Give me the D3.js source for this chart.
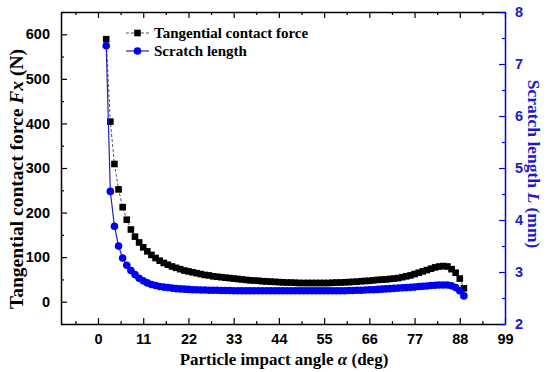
<!DOCTYPE html>
<html>
<head>
<meta charset="utf-8">
<script src="https://cdn.jsdelivr.net/npm/d3@7"></script>
<style>
  body { margin: 0; background: #fff; }
  svg { display: block; }
  .tick text { font-family: "Liberation Sans", Arial, sans-serif; font-weight: bold; font-size: 14.5px; }
</style>
</head>
<body>
<svg id="chart" width="550" height="372"></svg>
<script>
// particle impact angle (deg)
var angles = [
  2, 3, 4, 5, 6, 7, 8, 9, 10, 11,
  12, 13, 14, 15, 16, 17, 18, 19, 20, 21,
  22, 23, 24, 25, 26, 27, 28, 29, 30, 31,
  32, 33, 34, 35, 36, 37, 38, 39, 40, 41,
  42, 43, 44, 45, 46, 47, 48, 49, 50, 51,
  52, 53, 54, 55, 56, 57, 58, 59, 60, 61,
  62, 63, 64, 65, 66, 67, 68, 69, 70, 71,
  72, 73, 74, 75, 76, 77, 78, 79, 80, 81,
  82, 83, 84, 85, 86, 87, 88, 89
];

// tangential contact force Fx (N)
var forceFx = [
  589, 404, 309, 252, 212, 184, 162, 146, 133, 122,
  113, 105, 98, 92, 87, 83, 79, 76, 73, 70,
  68, 66, 64, 62, 60, 59, 57, 56, 55, 54,
  53, 52, 51, 50, 49, 48, 47.5, 47, 46, 45.5,
  45, 44.5, 44, 43.5, 43, 43, 42.5, 42, 42, 42,
  42, 42, 42, 42, 42, 42.5, 43, 43, 43.5, 44,
  44.5, 45, 46, 46.5, 47, 48, 49, 49.5, 50, 51,
  52, 53, 55, 57, 59, 62, 65, 68, 71, 74,
  77, 79, 80, 79, 73, 65, 52, 30
];

// scratch length L (mm)
var scratchL = [
  7.35, 4.55, 3.88, 3.50, 3.27, 3.13, 3.03, 2.95, 2.88, 2.83,
  2.79, 2.76, 2.74, 2.72, 2.71, 2.70, 2.69, 2.68, 2.675, 2.67,
  2.665, 2.66, 2.66, 2.655, 2.655, 2.65, 2.65, 2.65, 2.645, 2.645,
  2.645, 2.64, 2.64, 2.64, 2.64, 2.64, 2.64, 2.64, 2.64, 2.64,
  2.64, 2.64, 2.64, 2.64, 2.64, 2.64, 2.64, 2.64, 2.64, 2.64,
  2.64, 2.64, 2.64, 2.64, 2.64, 2.64, 2.64, 2.64, 2.64, 2.645,
  2.645, 2.65, 2.65, 2.655, 2.66, 2.66, 2.665, 2.67, 2.675, 2.68,
  2.685, 2.69, 2.695, 2.70, 2.705, 2.71, 2.72, 2.725, 2.73, 2.74,
  2.745, 2.75, 2.75, 2.75, 2.735, 2.70, 2.64, 2.54
];

var xTicks = [0, 11, 22, 33, 44, 55, 66, 77, 88, 99];
var xMinor = [-5.5, 5.5, 16.5, 27.5, 38.5, 49.5, 60.5, 71.5, 82.5, 93.5];
var leftTicks = [0, 100, 200, 300, 400, 500, 600];
var leftMinor = [-50, 50, 150, 250, 350, 450, 550, 650];
var rightTicks = [2, 3, 4, 5, 6, 7, 8];
var rightMinor = [2.5, 3.5, 4.5, 5.5, 6.5, 7.5];

var legendNames = ["Tangential contact force", "Scratch length"];

var blue = "#0000ee";
var axisBlue = "#1a1acc";

var box = {left: 61, right: 505, top: 12, bottom: 324};
var svg = d3.select("#chart");

var x = d3.scaleLinear().domain([-9, 99]).range([box.left, box.right]);
var yL = d3.scaleLinear().domain([-50, 650]).range([box.bottom, box.top]);
var yR = d3.scaleLinear().domain([2, 8]).range([box.bottom, box.top]);

function styleAxis(g, color) {
  g.select(".domain").attr("stroke", color).attr("stroke-width", 1.5);
  g.selectAll(".tick line").attr("stroke", color).attr("stroke-width", 1.2);
  g.selectAll(".tick text").attr("fill", color);
}

// bottom axis (inward ticks)
var gx = svg.append("g").attr("transform", "translate(0," + box.bottom + ")")
  .call(d3.axisBottom(x).tickValues(xTicks).tickSizeInner(-6).tickSizeOuter(0).tickPadding(10));
styleAxis(gx, "#000");
svg.append("g").attr("transform", "translate(0," + box.bottom + ")")
  .call(d3.axisBottom(x).tickValues(xMinor).tickSizeInner(-3).tickSizeOuter(0).tickFormat(""))
  .call(function(g) { g.select(".domain").remove(); styleAxis(g, "#000"); });

// top frame with mirrored ticks
var gt = svg.append("g").attr("transform", "translate(0," + box.top + ")")
  .call(d3.axisTop(x).tickValues(xTicks).tickSizeInner(-6).tickSizeOuter(0).tickFormat(""));
styleAxis(gt, "#000");
svg.append("g").attr("transform", "translate(0," + box.top + ")")
  .call(d3.axisTop(x).tickValues(xMinor).tickSizeInner(-3).tickSizeOuter(0).tickFormat(""))
  .call(function(g) { g.select(".domain").remove(); styleAxis(g, "#000"); });

// left axis
var gl = svg.append("g").attr("transform", "translate(" + box.left + ",0)")
  .call(d3.axisLeft(yL).tickValues(leftTicks).tickSizeInner(-6).tickSizeOuter(0).tickPadding(11));
styleAxis(gl, "#000");
svg.append("g").attr("transform", "translate(" + box.left + ",0)")
  .call(d3.axisLeft(yL).tickValues(leftMinor).tickSizeInner(-3).tickSizeOuter(0).tickFormat(""))
  .call(function(g) { g.select(".domain").remove(); styleAxis(g, "#000"); });

// right axis (blue)
var gr = svg.append("g").attr("transform", "translate(" + box.right + ",0)")
  .call(d3.axisRight(yR).tickValues(rightTicks).tickFormat(d3.format("d"))
    .tickSizeInner(-6).tickSizeOuter(0).tickPadding(10));
styleAxis(gr, blue);
gr.selectAll(".tick text").attr("fill", axisBlue);
svg.append("g").attr("transform", "translate(" + box.right + ",0)")
  .call(d3.axisRight(yR).tickValues(rightMinor).tickSizeInner(-3).tickSizeOuter(0).tickFormat(""))
  .call(function(g) { g.select(".domain").remove(); styleAxis(g, blue); });

// axis titles
var serif = "'Liberation Serif', 'Times New Roman', serif";
var xt = svg.append("text")
  .attr("x", 284).attr("y", 365)
  .attr("text-anchor", "middle")
  .attr("font-family", serif).attr("font-weight", "bold").attr("font-size", 17);
xt.append("tspan").text("Particle impact angle ");
xt.append("tspan").attr("font-style", "italic").text("α");
xt.append("tspan").text(" (deg)");

var lt = svg.append("text")
  .attr("transform", "translate(23,179) rotate(-90)")
  .attr("text-anchor", "middle")
  .attr("font-family", serif).attr("font-weight", "bold").attr("font-size", 19.5);
lt.append("tspan").text("Tangential contact force ");
lt.append("tspan").attr("font-style", "italic").text("Fx");
lt.append("tspan").text(" (N)");

var rt = svg.append("text")
  .attr("transform", "translate(528,164) rotate(90)")
  .attr("text-anchor", "middle").attr("fill", axisBlue)
  .attr("font-family", serif).attr("font-weight", "bold").attr("font-size", 17.5);
rt.append("tspan").text("Scratch length ");
rt.append("tspan").attr("font-style", "italic").text("L");
rt.append("tspan").text(" (mm)");

// series
var forceLine = d3.line().x(function(d, i) { return x(angles[i]); }).y(function(d) { return yL(d); });
var lengthLine = d3.line().x(function(d, i) { return x(angles[i]); }).y(function(d) { return yR(d); });

svg.append("path").datum(forceFx)
  .attr("d", forceLine).attr("fill", "none")
  .attr("stroke", "#555").attr("stroke-width", 1).attr("stroke-dasharray", "3,2");
svg.append("g").selectAll("rect").data(forceFx).join("rect")
  .attr("x", function(d, i) { return x(angles[i]) - 3.3; })
  .attr("y", function(d) { return yL(d) - 3.3; })
  .attr("width", 6.6).attr("height", 6.6).attr("fill", "#000");

svg.append("path").datum(scratchL)
  .attr("d", lengthLine).attr("fill", "none")
  .attr("stroke", "#2424b8").attr("stroke-width", 1.2);
svg.append("g").selectAll("circle").data(scratchL).join("circle")
  .attr("cx", function(d, i) { return x(angles[i]); })
  .attr("cy", function(d) { return yR(d); })
  .attr("r", 3.8).attr("fill", blue);

// legend
var lg = svg.append("g");
lg.append("line").attr("x1", 126).attr("x2", 149).attr("y1", 33).attr("y2", 33)
  .attr("stroke", "#555").attr("stroke-dasharray", "3,2");
lg.append("rect").attr("x", 134.2).attr("y", 29.7).attr("width", 6.6).attr("height", 6.6).attr("fill", "#000");
lg.append("line").attr("x1", 126).attr("x2", 149).attr("y1", 51).attr("y2", 51)
  .attr("stroke", "#2424b8").attr("stroke-width", 1.2);
lg.append("circle").attr("cx", 137.5).attr("cy", 51).attr("r", 3.8).attr("fill", blue);
lg.selectAll("text").data(legendNames).join("text")
  .attr("x", 154).attr("y", function(d, i) { return 38 + i * 18; })
  .attr("font-family", serif).attr("font-weight", "bold").attr("font-size", 15)
  .text(function(d) { return d; });
</script>
</body>
</html>
